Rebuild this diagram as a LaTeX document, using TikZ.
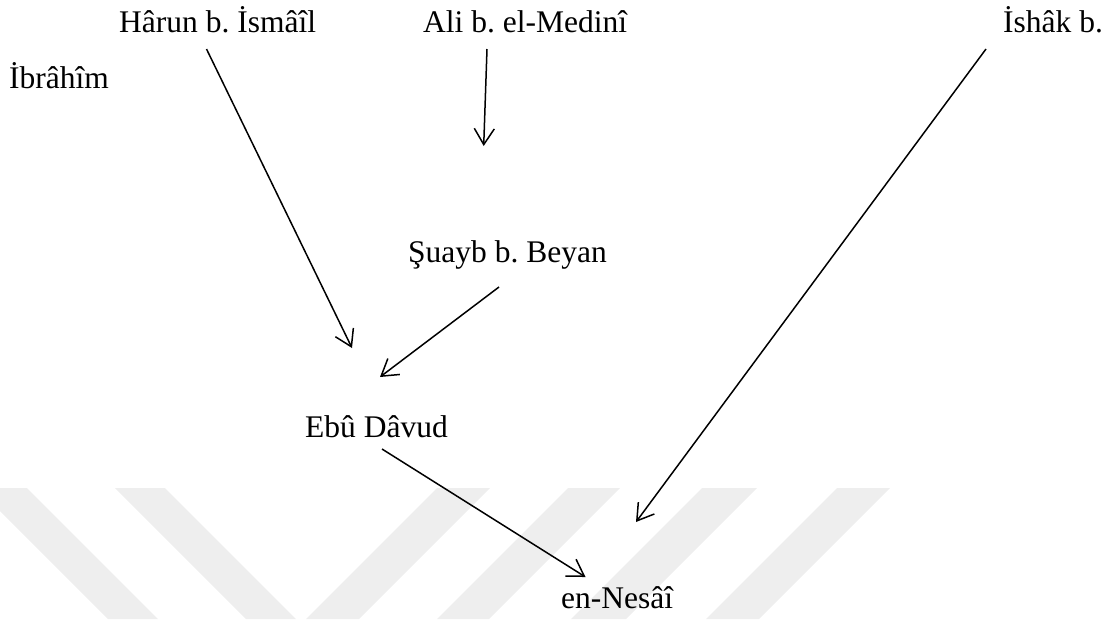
\documentclass[tikz,border=0pt]{standalone}
\usepackage{fontspec}
\setmainfont{Liberation Serif}
\usetikzlibrary{arrows.meta}
\definecolor{wm}{RGB}{238,238,238}
\tikzset{
  namebox/.style={anchor=base west, inner sep=0pt, font=\fontsize{31.5}{38}\selectfont\frenchspacing},
  link/.style={line width=1.5pt, -{Straight Barb[length=16pt,width=20pt,line width=1.5pt]}},
  stripe/.style={fill=wm, draw=none}
}
\begin{document}
\begin{tikzpicture}[x=1pt,y=-1pt]
\useasboundingbox (0,0) rectangle (1114,619);
% watermark stripes
\begin{scope}
\clip (0,0) rectangle (1114,619);
\fill[stripe] (-23,488) -- (27,488) -- (158,619) -- (108,619) -- cycle;
\fill[stripe] (115,488) -- (165,488) -- (296,619) -- (246,619) -- cycle;
\fill[stripe] (437,488) -- (490,488) -- (359,619) -- (306,619) -- cycle;
\fill[stripe] (568,488) -- (620,488) -- (489,619) -- (437,619) -- cycle;
\fill[stripe] (702,488) -- (757,488) -- (626,619) -- (571,619) -- cycle;
\fill[stripe] (837,488) -- (890,488) -- (759,619) -- (706,619) -- cycle;
\end{scope}
% names
\node[namebox] (harun) at (119,32) {Hârun b. İsmâîl};
\node[namebox] (ali) at (423,32) {Ali b. el-Medinî};
\node[namebox] (ishak) at (1003,32) {İshâk b.};
\node[namebox] (ibrahim) at (9,88) {İbrâhîm};
\node[namebox] (suayb) at (408,262) {Şuayb b. Beyan};
\node[namebox] (ebu) at (305,437) {Ebû Dâvud};
\node[namebox] (nesai) at (561,608) {en-Nesâî};
% connector ends
\coordinate (harunS) at (206.5,49);
\coordinate (harunE) at (352,348);
\coordinate (aliS) at (487,49);
\coordinate (aliE) at (483.7,146);
\coordinate (ishakS) at (986,49);
\coordinate (ishakE) at (636,522);
\coordinate (suaybS) at (499,287);
\coordinate (suaybE) at (380,377);
\coordinate (ebuS) at (382,449);
\coordinate (ebuE) at (585.5,577);
% connectors
\draw[link] (harunS) -- (harunE);
\draw[link] (aliS) -- (aliE);
\draw[link] (ishakS) -- (ishakE);
\draw[link] (suaybS) -- (suaybE);
\draw[link] (ebuS) -- (ebuE);
\end{tikzpicture}
\end{document}
